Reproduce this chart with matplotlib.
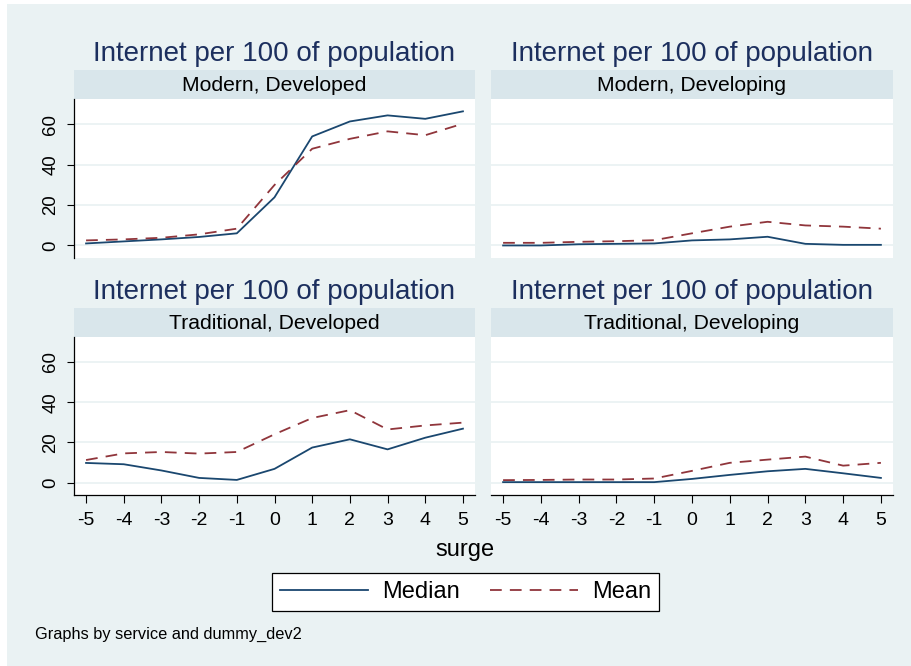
import matplotlib
matplotlib.use("Agg")
import matplotlib.pyplot as plt
from matplotlib.patches import Rectangle
from matplotlib.lines import Line2D

plt.rcParams['font.family'] = ['Liberation Sans', 'DejaVu Sans']

# ---- data ----
surge = [-5, -4, -3, -2, -1, 0, 1, 2, 3, 4, 5]
panel_titles = ["Modern, Developed", "Modern, Developing",
                "Traditional, Developed", "Traditional, Developing"]
tl_median = [1.0, 2.0, 3.0, 4.2, 6.0, 23.8, 53.9, 61.3, 64.3, 62.6, 66.3]
tl_mean = [2.5, 3.0, 3.8, 5.5, 8.3, 29.9, 47.8, 52.7, 56.4, 54.5, 60.2]
tr_median = [0.0, 0.0, 0.6, 0.8, 1.0, 2.5, 3.0, 4.3, 0.8, 0.3, 0.3]
tr_mean = [1.3, 1.3, 1.8, 2.1, 2.6, 6.0, 9.3, 11.7, 9.9, 9.3, 8.3]
bl_median = [9.75, 9.1, 6.0, 2.3, 1.3, 6.8, 17.4, 21.5, 16.5, 22.3, 26.8]
bl_mean = [11.2, 14.5, 15.2, 14.4, 15.2, 24.0, 32.1, 36.0, 26.4, 28.4, 29.8]
br_median = [0.2, 0.2, 0.2, 0.2, 0.2, 1.8, 3.8, 5.6, 6.8, 4.6, 2.3]
br_mean = [1.2, 1.3, 1.5, 1.5, 2.0, 5.8, 9.8, 11.4, 12.9, 8.4, 9.8]
y_ticks = [0, 20, 40, 60]
series_labels = ["Median", "Mean"]

W, H = 912, 666
BG = "#EAF2F3"
STRIP = "#D9E6EB"
NAVY = "#1A476F"
MAROON = "#90353B"
TITLE_C = "#1C2F5E"

fig = plt.figure(figsize=(W / 100, H / 100), dpi=100)
fig.patch.set_facecolor("white")
fig.patches.append(Rectangle((7 / W, 0), 1 - 7 / W, 1 - 4 / H,
                             transform=fig.transFigure, facecolor=BG,
                             edgecolor="none", zorder=-10))


def rect(x0, y0, x1, y1):
    return [x0 / W, 1 - y1 / H, (x1 - x0) / W, (y1 - y0) / H]


panels = [
    (74, 475, 99, 258, 70, 61, tl_median, tl_mean, True, False),
    (491, 893, 99, 258, 70, 61, tr_median, tr_mean, False, False),
    (74, 475, 337, 495, 308, 299, bl_median, bl_mean, True, True),
    (491, 893, 337, 495, 308, 299, br_median, br_mean, False, True),
]

dash = (6.5, 4.5)
for i, (x0, x1, y0, y1, sy0, tb, med, mean, left, bottom) in enumerate(panels):
    sax = fig.add_axes(rect(x0, sy0, x1, y0))
    sax.set_facecolor(STRIP)
    for s in sax.spines.values():
        s.set_visible(False)
    sax.set_xticks([])
    sax.set_yticks([])
    sax.text(0.5, 0.45, panel_titles[i], ha="center", va="center",
             fontsize=15.2, color="black", transform=sax.transAxes)
    fig.text((x0 + x1) / 2 / W, 1 - tb / H, "Internet per 100 of population",
             ha="center", va="baseline", fontsize=20, color=TITLE_C)

    ax = fig.add_axes(rect(x0, y0, x1, y1))
    ax.set_facecolor("white")
    ax.plot(surge, med, color=NAVY, lw=1.3, zorder=3)
    ax.plot(surge, mean, color=MAROON, lw=1.3, dashes=dash, zorder=3)
    ax.set_xlim(-5.32, 5.32)
    ax.set_ylim(-6.2, 72.4)
    for yv in y_ticks:
        ax.axhline(yv, color=BG, lw=1.3, zorder=1)
    for s in ax.spines.values():
        s.set_visible(False)
    ax.set_yticks(y_ticks)
    ax.set_xticks(surge)
    if left:
        ax.spines["left"].set_visible(True)
        ax.spines["left"].set_linewidth(0.9)
        ax.tick_params(axis="y", length=5, width=0.8, pad=5.5, labelsize=13.4)
        ax.set_yticklabels([str(v) for v in y_ticks], rotation=90, va="center")
    else:
        ax.tick_params(axis="y", left=False, labelleft=False)
    if bottom:
        ax.spines["bottom"].set_visible(True)
        ax.spines["bottom"].set_linewidth(0.9)
        ax.tick_params(axis="x", length=5.5, width=0.8, pad=6.5, labelsize=14)
        ax.set_xticklabels([str(v) for v in surge])
    else:
        ax.tick_params(axis="x", bottom=False, labelbottom=False)

fig.text(465 / W, 1 - 556 / H, "surge", ha="center", va="baseline", fontsize=17)
fig.text(35 / W, 1 - 639 / H, "Graphs by service and dummy_dev2",
         ha="left", va="baseline", fontsize=11.8)

handles = [Line2D([], [], color=NAVY, lw=1.3),
           Line2D([], [], color=MAROON, lw=1.3, dashes=dash)]
leg = fig.legend(handles, series_labels, ncol=2, loc="center",
                 bbox_to_anchor=(465.5 / W, 1 - 592 / H), fontsize=17,
                 frameon=True, fancybox=False, edgecolor="black",
                 facecolor="white", framealpha=1, handlelength=3.7,
                 handletextpad=0.6, columnspacing=1.3, borderpad=0.35,
                 borderaxespad=0)
leg.get_frame().set_linewidth(0.9)

fig.savefig("out.png", dpi=100, facecolor=fig.get_facecolor())
